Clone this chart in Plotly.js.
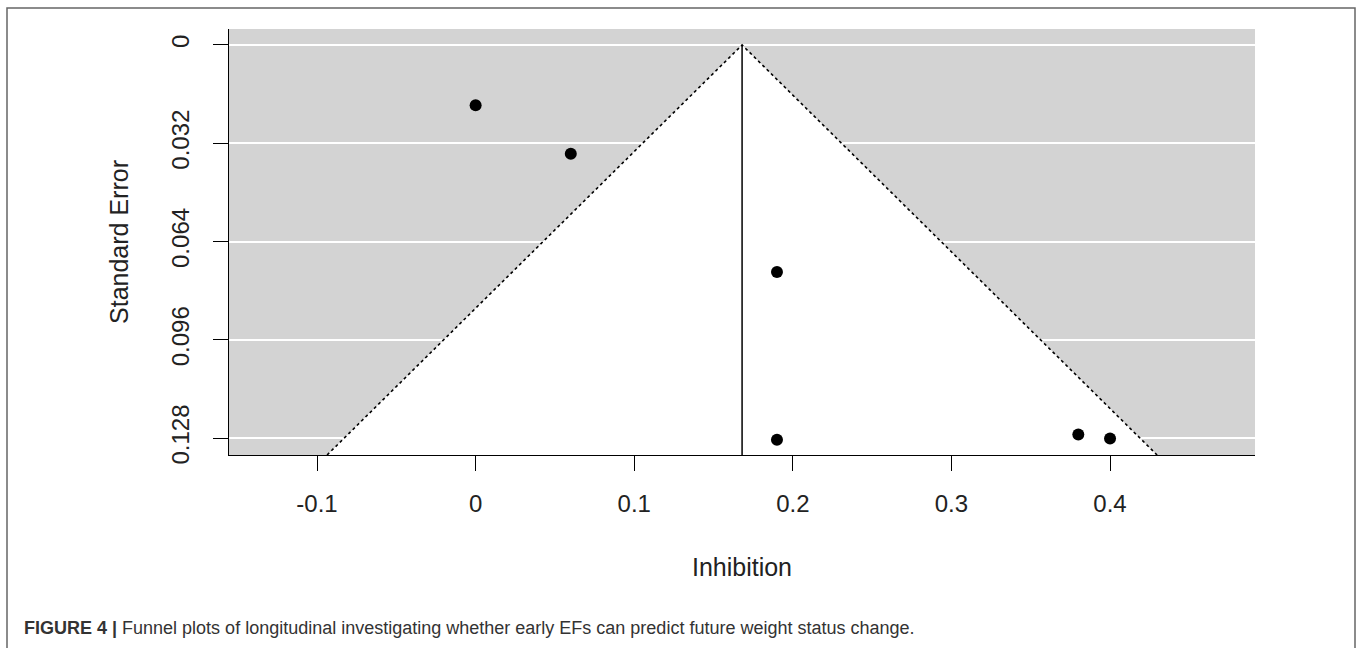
<!DOCTYPE html>
<html>
<head>
<meta charset="utf-8">
<script src="https://cdn.plot.ly/plotly-3.0.1.min.js"></script>
<style>
  html, body { margin: 0; padding: 0; background: #ffffff; }
  #chart { width: 1358px; height: 648px; }
</style>
</head>
<body>
<div id="chart"></div>
<script>
// Study estimates (Inhibition effect) and their standard errors
const effectSizes = [0.00, 0.06, 0.19, 0.19, 0.38, 0.40];
const standardErrors = [0.0196, 0.0354, 0.0739, 0.1285, 0.1268, 0.1281];

// Pooled estimate (funnel centre) and funnel limits
const pooledEstimate = 0.168;
const zCrit = 1.96;

// Axis ticks
const xTickVals = [-0.1, 0, 0.1, 0.2, 0.3, 0.4];
const xTickText = ["-0.1", "0", "0.1", "0.2", "0.3", "0.4"];
const yTickVals = [0, 0.032, 0.064, 0.096, 0.128];
const yTickText = ["0", "0.032", "0.064", "0.096", "0.128"];

const xRange = [-0.1555, 0.4914];
const yRange = [0.1335, -0.0052]; // reversed: SE = 0 at top
const seMax = yRange[0];

const FONT = "Liberation Sans, Arial, Helvetica, sans-serif";

const funnelX = [pooledEstimate - zCrit * seMax, pooledEstimate, pooledEstimate + zCrit * seMax];
const funnelY = [seMax, 0, seMax];

const traces = [
  { // white funnel region
    type: "scatter", mode: "lines",
    x: funnelX.concat([funnelX[0]]), y: funnelY.concat([funnelY[0]]),
    fill: "toself", fillcolor: "#ffffff",
    line: { width: 0, color: "rgba(0,0,0,0)" },
    hoverinfo: "skip", showlegend: false
  },
  { // dotted funnel limits
    type: "scatter", mode: "lines",
    x: funnelX, y: funnelY,
    line: { color: "#000000", width: 1.6, dash: "dot" },
    hoverinfo: "skip", showlegend: false
  },
  { // pooled estimate line
    type: "scatter", mode: "lines",
    x: [pooledEstimate, pooledEstimate], y: [0, seMax],
    line: { color: "#000000", width: 1.5 },
    hoverinfo: "skip", showlegend: false
  },
  { // studies
    type: "scatter", mode: "markers",
    x: effectSizes, y: standardErrors,
    marker: { color: "#000000", size: 12, symbol: "circle" },
    showlegend: false
  }
];

const layout = {
  width: 1358, height: 648,
  margin: { l: 229, r: 103, t: 29, b: 193 },
  paper_bgcolor: "#ffffff",
  plot_bgcolor: "#d3d3d3",
  font: { family: FONT, color: "#222222", size: 24 },
  showlegend: false,
  xaxis: {
    range: xRange,
    tickvals: xTickVals, ticktext: xTickText,
    showgrid: false, zeroline: false,
    showline: true, linecolor: "#000000", linewidth: 1,
    ticks: "outside", ticklen: 15, tickwidth: 1, tickcolor: "#000000",
    ticklabelstandoff: 12,
    tickfont: { family: FONT, size: 24, color: "#222222" },
    title: { text: "Inhibition", font: { family: FONT, size: 25, color: "#222222" }, standoff: 42 }
  },
  yaxis: {
    range: yRange,
    tickvals: yTickVals, ticktext: yTickText,
    tickangle: -90,
    showgrid: true, gridcolor: "#ffffff", gridwidth: 2,
    zeroline: false,
    showline: true, linecolor: "#000000", linewidth: 1,
    ticks: "outside", ticklen: 15, tickwidth: 1, tickcolor: "#000000",
    ticklabelstandoff: 14,
    tickfont: { family: FONT, size: 24, color: "#222222" },
    title: { text: "Standard Error", font: { family: FONT, size: 25, color: "#222222" }, standoff: 31 }
  },
  shapes: [
    { // figure frame
      type: "rect", xref: "paper", yref: "paper", layer: "below",
      x0: (7 - 229) / 1026, x1: (1355 - 229) / 1026,
      y0: (455 - 660) / 426, y1: (455 - 8) / 426,
      line: { color: "#666666", width: 1.5 }, fillcolor: "rgba(0,0,0,0)"
    }
  ],
  annotations: [
    {
      xref: "paper", yref: "paper",
      x: (22 - 229) / 1026, y: (455 - 628) / 426,
      xanchor: "left", yanchor: "middle", showarrow: false,
      text: "<b>FIGURE 4 |</b> Funnel plots of longitudinal investigating whether early EFs can predict future weight status change.",
      font: { family: FONT, size: 18, color: "#333333" }
    }
  ]
};

Plotly.newPlot("chart", traces, layout, { displayModeBar: false, staticPlot: true });
</script>
</body>
</html>
